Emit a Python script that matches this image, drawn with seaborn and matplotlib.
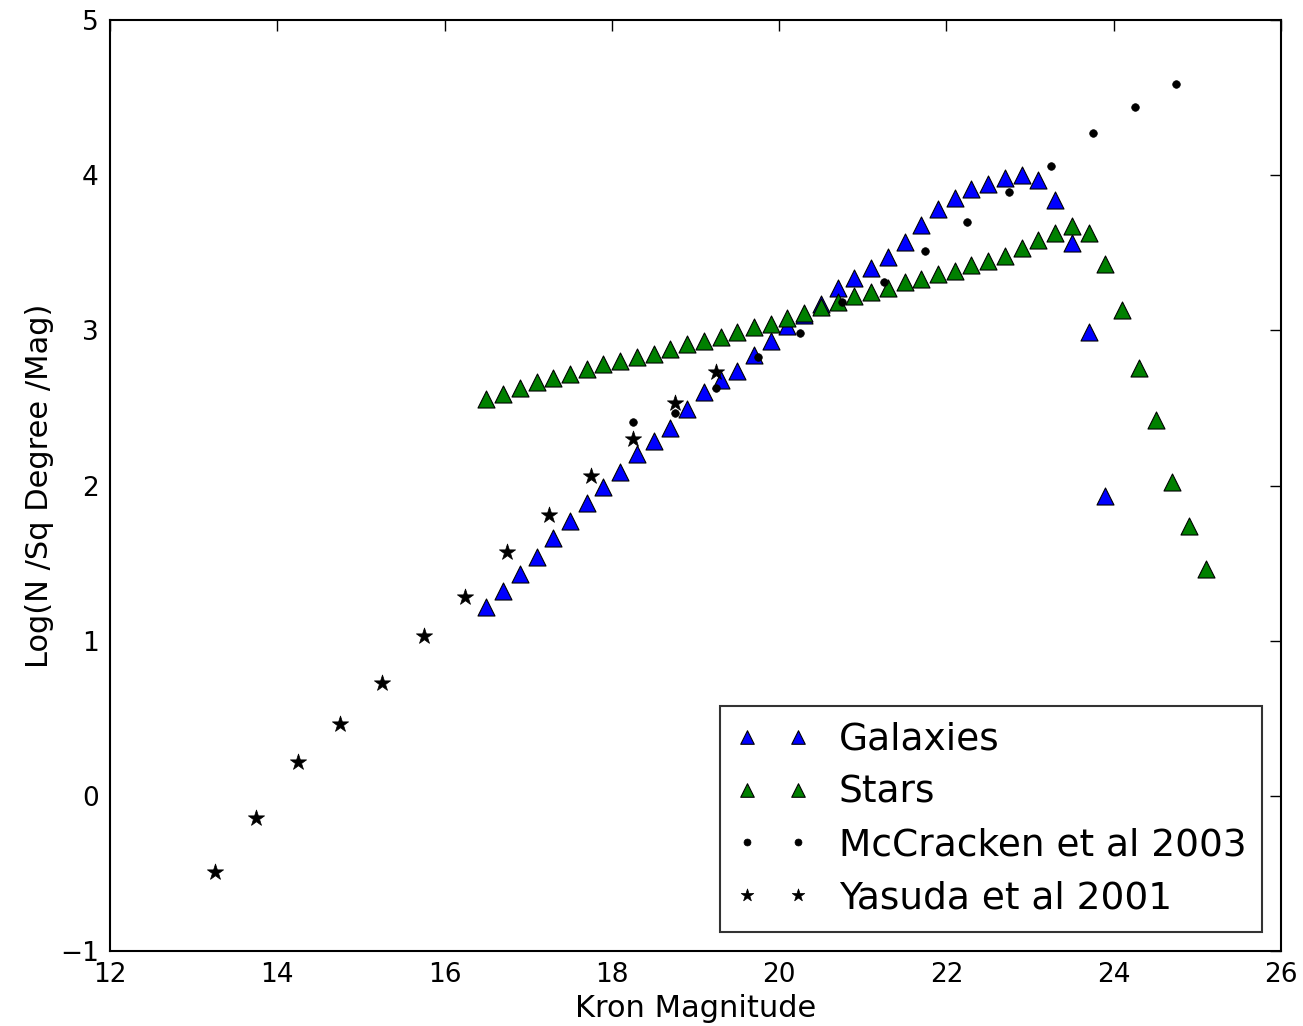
import matplotlib
matplotlib.use("Agg")
import matplotlib.pyplot as plt
import seaborn as sns

gal_mag = [16.5, 16.7, 16.9, 17.1, 17.3, 17.5, 17.7, 17.9, 18.1, 18.3, 18.5, 18.7, 18.9,
           19.1, 19.3, 19.5, 19.7, 19.9, 20.1, 20.3, 20.5, 20.7, 20.9, 21.1, 21.3, 21.5,
           21.7, 21.9, 22.1, 22.3, 22.5, 22.7, 22.9, 23.1, 23.3, 23.5, 23.7, 23.9]
gal_val = [1.22, 1.32, 1.43, 1.54, 1.66, 1.77, 1.89, 1.99, 2.09, 2.20, 2.29, 2.37, 2.49,
           2.60, 2.68, 2.74, 2.84, 2.93, 3.03, 3.10, 3.17, 3.27, 3.34, 3.40, 3.47, 3.57,
           3.68, 3.78, 3.85, 3.91, 3.94, 3.98, 4.00, 3.97, 3.84, 3.56, 2.99, 1.93]

star_mag = [16.5, 16.7, 16.9, 17.1, 17.3, 17.5, 17.7, 17.9, 18.1, 18.3, 18.5, 18.7, 18.9,
            19.1, 19.3, 19.5, 19.7, 19.9, 20.1, 20.3, 20.5, 20.7, 20.9, 21.1, 21.3, 21.5,
            21.7, 21.9, 22.1, 22.3, 22.5, 22.7, 22.9, 23.1, 23.3, 23.5, 23.7, 23.9, 24.1,
            24.3, 24.5, 24.7, 24.9, 25.1]
star_val = [2.56, 2.59, 2.63, 2.67, 2.69, 2.72, 2.75, 2.78, 2.80, 2.83, 2.85, 2.88, 2.91,
            2.93, 2.96, 2.99, 3.02, 3.04, 3.08, 3.11, 3.15, 3.18, 3.22, 3.25, 3.27, 3.31,
            3.33, 3.36, 3.38, 3.42, 3.45, 3.48, 3.53, 3.58, 3.63, 3.67, 3.63, 3.43, 3.13,
            2.76, 2.42, 2.02, 1.74, 1.46]

mcc_mag = [18.25, 18.75, 19.25, 19.75, 20.25, 20.75, 21.25, 21.75, 22.25, 22.75, 23.25,
           23.75, 24.25, 24.75]
mcc_val = [2.41, 2.47, 2.63, 2.83, 2.98, 3.18, 3.31, 3.51, 3.70, 3.89, 4.06, 4.27, 4.44, 4.59]

yas_mag = [13.25, 13.75, 14.25, 14.75, 15.25, 15.75, 16.25, 16.75, 17.25, 17.75, 18.25,
           18.75, 19.25]
yas_val = [-0.49, -0.14, 0.22, 0.46, 0.73, 1.03, 1.28, 1.57, 1.81, 2.06, 2.30, 2.53, 2.73]

sns.set_style("white")
plt.rcParams['font.family'] = ['DejaVu Sans']
plt.rcParams['text.color'] = 'black'
plt.rcParams['axes.labelcolor'] = 'black'
plt.rcParams['xtick.color'] = 'black'
plt.rcParams['ytick.color'] = 'black'

fig = plt.figure(figsize=(13.03, 10.26), dpi=100)
ax = fig.add_axes([0.0844, 0.0731, 0.8987, 0.9074])

sns.scatterplot(x=gal_mag, y=gal_val, ax=ax, marker='^', s=150, color='#0000ff',
                edgecolor='black', linewidth=0.8, label='Galaxies', zorder=3)
sns.scatterplot(x=star_mag, y=star_val, ax=ax, marker='^', s=150, color='#008000',
                edgecolor='black', linewidth=0.8, label='Stars', zorder=3)
sns.scatterplot(x=mcc_mag, y=mcc_val, ax=ax, marker='o', s=30, color='black',
                edgecolor='black', linewidth=0.5, label='McCracken et al 2003', zorder=4)
sns.scatterplot(x=yas_mag, y=yas_val, ax=ax, marker='*', s=150, color='black',
                edgecolor='black', linewidth=0.5, label='Yasuda et al 2001', zorder=4)

ax.set_xlim(12, 26)
ax.set_ylim(-1, 5)
ax.set_xticks([12, 14, 16, 18, 20, 22, 24, 26])
ax.set_yticks([-1, 0, 1, 2, 3, 4, 5])
ax.tick_params(direction='in', top=True, right=True, length=8, width=1,
               labelsize=19, pad=8)
for sp in ax.spines.values():
    sp.set_linewidth(1.5)
    sp.set_color('black')
ax.set_xlabel('Kron Magnitude', fontsize=22, labelpad=4)
ax.set_ylabel('Log(N /Sq Degree /Mag)', fontsize=22, labelpad=4)

leg = ax.legend(loc='lower right', scatterpoints=2, fontsize=27, fancybox=False,
                frameon=True, borderaxespad=0.5, handletextpad=0.8, handlelength=1.95,
                borderpad=0.42, labelspacing=0.45, scatteryoffsets=[0.5])
leg.get_frame().set_edgecolor('black')
leg.get_frame().set_linewidth(1.5)
leg_sizes = [95, 95, 25, 90]
for h, sz in zip(leg.legend_handles, leg_sizes):
    h.set_sizes([sz])

fig.savefig('out.png', dpi=100)
